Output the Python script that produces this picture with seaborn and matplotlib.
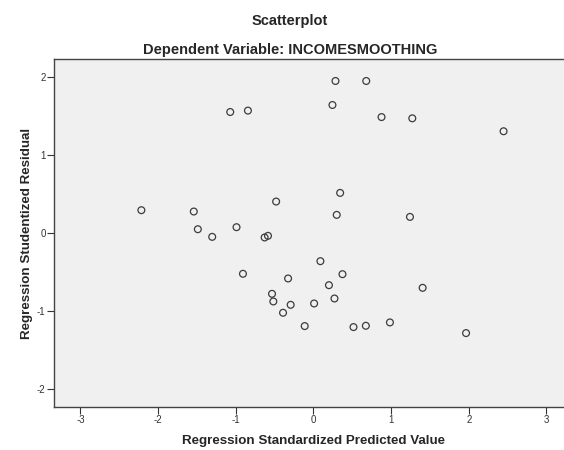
import pandas as pd
import matplotlib
matplotlib.use("Agg")
import matplotlib.pyplot as plt
import seaborn as sns

# values
predicted = [0.284, 0.68, 0.245, 0.877, -1.071, -0.843, 1.273, 2.448,
             -2.215, -1.54, -1.488, -1.303, -0.99, -0.628, -0.585, -0.48,
             0.344, 0.30, 0.09, -0.907, -0.326, 0.374, 0.20, -0.533,
             -0.516, -0.293, 0.009, 0.271, -0.391, -0.112, 0.516, 0.675,
             0.985, 1.243, 1.406, 1.965]
residual = [1.953, 1.953, 1.645, 1.49, 1.555, 1.573, 1.474, 1.308,
            0.295, 0.278, 0.051, -0.047, 0.077, -0.055, -0.034, 0.406,
            0.517, 0.235, -0.359, -0.521, -0.581, -0.526, -0.667, -0.778,
            -0.876, -0.919, -0.902, -0.838, -1.021, -1.192, -1.205, -1.188,
            -1.145, 0.209, -0.701, -1.282]
xticks = [-3, -2, -1, 0, 1, 2, 3]
yticks = [-2, -1, 0, 1, 2]

df = pd.DataFrame({'pred': predicted, 'resid': residual})

sns.set_style("white")
plt.rcParams['font.family'] = ['Liberation Sans', 'DejaVu Sans']
plt.rcParams['axes.unicode_minus'] = False

fig = plt.figure(figsize=(5.64, 4.5), dpi=100)
ax = fig.add_axes([0.0957, 0.0956, 0.92, 0.7724])
ax.set_facecolor('#f0f0f0')

sns.scatterplot(data=df, x='pred', y='resid', ax=ax, marker='o', s=24,
                facecolor='none', edgecolor='#3c3c3c', linewidth=0.9)

ax.set_xlim(-3.34, 3.34)
ax.set_ylim(-2.23, 2.23)
ax.set_xticks(xticks)
ax.set_yticks(yticks)
ax.tick_params(direction='out', length=5, width=0.8, color='#333333',
               labelsize=7, labelcolor='#333333', pad=1,
               bottom=True, left=True)
for side in ['left', 'top', 'bottom']:
    ax.spines[side].set_color('#444444')
    ax.spines[side].set_linewidth(1.0)
ax.spines['right'].set_visible(False)

ax.set_xlabel('Regression Standardized Predicted Value', fontsize=9.6,
              fontweight='bold', labelpad=7)
ax.set_ylabel('Regression Studentized Residual', fontsize=9.6,
              fontweight='bold', labelpad=3)

fig.text(0.514, 0.953, 'Scatterplot', ha='center', va='center',
         fontsize=10.5, fontweight='bold')
fig.text(0.514, 0.889, 'Dependent Variable: INCOMESMOOTHING', ha='center',
         va='center', fontsize=10.5, fontweight='bold')

fig.savefig('out.png', dpi=100)
